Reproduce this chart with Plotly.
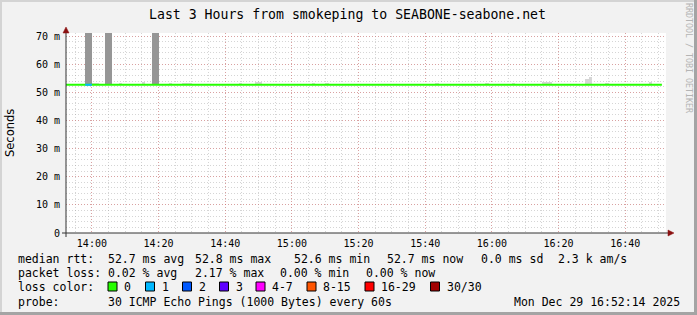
import plotly.graph_objects as go
import pandas as pd

# ---------------- data ----------------
DAY = "2025-12-29 "
x_start = DAY + "13:52:14"
x_end = DAY + "16:52:14"

x_tick_text = ["14:00", "14:20", "14:40", "15:00", "15:20", "15:40", "16:00", "16:20", "16:40"]
y_tick_vals = [0, 10, 20, 30, 40, 50, 60, 70]          # milliseconds
y_tick_text = ["0", "10 m", "20 m", "30 m", "40 m", "50 m", "60 m", "70 m"]

# median rtt (ms), step values
median_times = ["13:52", "14:00", "14:10", "14:20", "14:30", "14:40", "14:50", "15:00", "15:10",
                "15:20", "15:30", "15:40", "15:50", "16:00", "16:10", "16:20", "16:30", "16:40", "16:51"]
median_ms = [52.7, 52.7, 52.7, 52.7, 52.7, 52.7, 52.7, 52.7, 52.7,
             52.7, 52.7, 52.7, 52.7, 52.7, 52.7, 52.7, 52.7, 52.7, 52.7]

# intervals with packet loss
loss_start = ["13:58"]
loss_end = ["14:00"]
loss_count = [1]

# dark smoke (wide ping spread) intervals
smoke_dark_start = ["13:58", "14:04", "14:18"]
smoke_dark_minutes = [2, 2, 2]
smoke_dark_low = [53.1, 53.1, 53.1]
smoke_dark_high = [80.0, 80.0, 80.0]

# light smoke (1-minute columns above the median)
smoke_light_time = ["14:00", "14:01", "14:08", "14:15", "14:23", "14:27", "14:28", "14:29",
                    "14:44", "14:49", "14:50", "15:06", "15:10", "15:43", "15:58", "16:06",
                    "16:15", "16:16", "16:17", "16:28", "16:29", "16:34", "16:47"]
smoke_light_top = [53.5, 53.4, 53.4, 53.6, 53.3, 53.4, 53.4, 53.3,
                   53.5, 53.7, 53.6, 53.4, 53.4, 53.4, 53.5, 53.4,
                   53.7, 53.8, 53.6, 54.6, 55.6, 53.5, 53.6]

# legend
loss_labels = ["0", "1", "2", "3", "4-7", "8-15", "16-29", "30/30"]
loss_colors = ["#26ff00", "#00b8ff", "#0059ff", "#5e00ff", "#ff00ff", "#ff5500", "#ff0000", "#a10000"]
loss_lower = [0, 1, 2, 3, 4, 8, 16, 30]

title_text = "Last 3 Hours from smokeping to SEABONE-seabone.net"
rtt_items = ["median rtt:", "52.7 ms avg", "52.8 ms max", "52.6 ms min", "52.7 ms now", "0.0 ms sd", "2.3 k am/s"]
loss_items = ["packet loss:", "0.02 % avg", "2.17 % max", "0.00 % min", "0.00 % now"]
probe_items = ["probe:", "30 ICMP Echo Pings (1000 Bytes) every 60s", "Mon Dec 29 16:52:14 2025"]

# ---------------- layout helpers ----------------
W, H = 697, 315
PL, PT, PW, PH = 66, 33, 600, 200
def X(px):
    return (px - PL) / PW
def Y(py):
    return (PT + PH - py) / PH

MONO = "DejaVu Sans Mono"
ts = lambda t: pd.Timestamp(DAY + t)

fig = go.Figure()

# dark smoke
fig.add_trace(go.Bar(
    x=[ts(s) + pd.Timedelta(minutes=m / 2) for s, m in zip(smoke_dark_start, smoke_dark_minutes)],
    y=[h - l for h, l in zip(smoke_dark_high, smoke_dark_low)],
    base=smoke_dark_low,
    width=[m * 60000 for m in smoke_dark_minutes],
    marker=dict(color="#969696", line=dict(width=0)),
    showlegend=False, hoverinfo="skip"))

# light smoke
fig.add_trace(go.Bar(
    x=[ts(t) + pd.Timedelta(seconds=30) for t in smoke_light_time],
    y=[v - 52.7 for v in smoke_light_top],
    base=[52.7] * len(smoke_light_time),
    width=60000,
    marker=dict(color="#d6d6d6", line=dict(width=0)),
    showlegend=False, hoverinfo="skip"))

# median line (loss 0)
fig.add_trace(go.Scatter(
    x=[ts(t) for t in median_times], y=median_ms, mode="lines",
    line=dict(color=loss_colors[0], width=2, shape="hv"),
    showlegend=False, hoverinfo="skip"))

# median segments with loss
def loss_color(n):
    c = loss_colors[0]
    for lo, col in zip(loss_lower, loss_colors):
        if n >= lo:
            c = col
    return c

for s, e, n in zip(loss_start, loss_end, loss_count):
    fig.add_trace(go.Scatter(
        x=[ts(s), ts(e)], y=[52.7, 52.7], mode="lines",
        line=dict(color=loss_color(n), width=2),
        showlegend=False, hoverinfo="skip"))

shapes = []
ann = []

# frame
shapes += [
    dict(type="rect", xref="paper", yref="paper", x0=X(0), x1=X(W), y0=Y(0), y1=Y(2),
         fillcolor="#d4d4d4", line_width=0, layer="above"),
    dict(type="rect", xref="paper", yref="paper", x0=X(0), x1=X(2), y0=Y(0), y1=Y(H),
         fillcolor="#d4d4d4", line_width=0, layer="above"),
    dict(type="rect", xref="paper", yref="paper", x0=X(W - 3), x1=X(W), y0=Y(0), y1=Y(H),
         fillcolor="#a4a4a4", line_width=0, layer="above"),
    dict(type="rect", xref="paper", yref="paper", x0=X(0), x1=X(W), y0=Y(H - 3), y1=Y(H),
         fillcolor="#a4a4a4", line_width=0, layer="above"),
]

# axes lines and arrows
AX = "#333333"
ARR = "#8b1010"
shapes += [
    dict(type="line", xref="paper", yref="paper", x0=X(62), x1=X(669), y0=Y(233), y1=Y(233),
         line=dict(color=AX, width=1)),
    dict(type="line", xref="paper", yref="paper", x0=X(66), x1=X(66), y0=Y(237), y1=Y(30),
         line=dict(color=AX, width=1)),
    dict(type="path", xref="paper", yref="paper",
         path=f"M {X(63)},{Y(33)} L {X(69)},{Y(33)} L {X(66)},{Y(27)} Z",
         fillcolor=ARR, line=dict(color=ARR, width=0.5)),
    dict(type="path", xref="paper", yref="paper",
         path=f"M {X(668)},{Y(230)} L {X(668)},{Y(236)} L {X(674)},{Y(233)} Z",
         fillcolor=ARR, line=dict(color=ARR, width=0.5)),
]

# title
ann.append(dict(text=title_text, x=X(347.5), y=Y(14), xref="paper", yref="paper",
                xanchor="center", yanchor="middle", showarrow=False,
                font=dict(family=MONO, size=13.2, color="black")))
# watermark
ann.append(dict(text="RRDTOOL / TOBI OETIKER", x=X(689), y=Y(58), xref="paper", yref="paper",
                xanchor="center", yanchor="middle", showarrow=False, textangle=90,
                font=dict(family=MONO, size=8.3, color="#b4b4b4")))
# y title
ann.append(dict(text="Seconds", x=X(10), y=Y(133), xref="paper", yref="paper",
                xanchor="center", yanchor="middle", showarrow=False, textangle=-90,
                font=dict(family="DejaVu Sans", size=11.5, color="black")))

LF = dict(family=MONO, size=11.5, color="black")
def put(text, px, py):
    ann.append(dict(text=text, x=X(px - 1), y=Y(py), xref="paper", yref="paper",
                    xanchor="left", yanchor="middle", showarrow=False, font=LF))

for t, px in zip(rtt_items, [16.7, 107.3, 194.3, 292.7, 386, 480, 557]):
    put(t, px, 259)
for t, px in zip(loss_items, [16.7, 107.3, 194.3, 279.3, 365]):
    put(t, px, 273)
put("loss color:", 16.7, 287)
box_x = [108, 145.5, 182.5, 219.5, 256, 307, 365, 430.5]
for lab, col, bx in zip(loss_labels, loss_colors, box_x):
    shapes.append(dict(type="rect", xref="paper", yref="paper",
                       x0=X(bx), x1=X(bx + 9), y0=Y(291), y1=Y(282),
                       fillcolor=col, line=dict(color="black", width=1), layer="above"))
    put(lab, bx + 15, 287)
put(probe_items[0], 16.7, 301.5)
put(probe_items[1], 107.3, 301.5)
put(probe_items[2], 513, 301.5)

MAJ = "rgba(225,90,90,0.42)"
MIN = "rgba(150,150,150,0.40)"

fig.update_layout(
    width=W, height=H,
    margin=dict(l=PL, r=W - PL - PW, t=PT, b=H - PT - PH, pad=0),
    paper_bgcolor="#f2f2f2", plot_bgcolor="white",
    barmode="overlay", bargap=0, showlegend=False,
    shapes=shapes, annotations=ann,
    xaxis=dict(type="date", range=[x_start, x_end],
               tickmode="array", tickvals=[DAY + t for t in x_tick_text], ticktext=x_tick_text,
               showgrid=True, gridcolor=MAJ, griddash="1px,2px", gridwidth=1,
               zeroline=False, showline=False, ticks="", ticklabelstandoff=3,
               tickfont=dict(family=MONO, size=10, color="black"),
               minor=dict(dtick=5 * 60000, tick0=DAY + "14:00", showgrid=True,
                          gridcolor=MIN, griddash="1px,2px", gridwidth=1),
               fixedrange=True),
    yaxis=dict(range=[0, 71.1], tickmode="array", tickvals=y_tick_vals, ticktext=y_tick_text,
               showgrid=True, gridcolor=MAJ, griddash="1px,2px", gridwidth=1,
               zeroline=False, showline=False, ticks="", ticklabelstandoff=5,
               tickfont=dict(family=MONO, size=10, color="black"),
               minor=dict(dtick=2, tick0=0, showgrid=True,
                          gridcolor=MIN, griddash="1px,2px", gridwidth=1),
               fixedrange=True),
)

fig.write_html("out.html")
